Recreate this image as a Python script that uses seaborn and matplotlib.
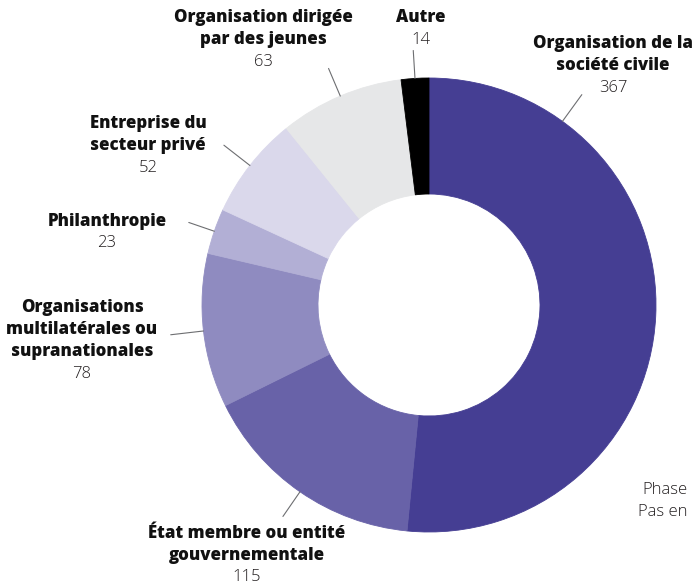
import numpy as np
import seaborn as sns
import matplotlib.pyplot as plt

categories = ["Organisation de la\nsociété civile",
              "État membre ou entité\ngouvernementale",
              "Organisations\nmultilatérales ou\nsupranationales",
              "Philanthropie",
              "Entreprise du\nsecteur privé",
              "Organisation dirigée\npar des jeunes",
              "Autre"]
values = [367, 115, 78, 23, 52, 63, 14]
colors = ["#453e93", "#6862a8", "#8f8bc0", "#b2afd5", "#dad8eb", "#e6e7e8", "#000000"]

sns.set_theme(style="white")
plt.rcParams['font.family'] = ['Open Sans', 'DejaVu Sans']

W, H = 696, 586
fig = plt.figure(figsize=(W / 100, H / 100), dpi=100)
ax = fig.add_axes([0, 0, 1, 1])
ax.set_aspect('equal')
ax.axis('off')

cx, cy = 429, H - 305
r_out, r_in = 227, 111

wedges, _ = ax.pie(values, colors=colors, startangle=90, counterclock=False,
                   center=(cx, cy), radius=r_out,
                   wedgeprops=dict(width=r_out - r_in, linewidth=0.6))
for w, c in zip(wedges, colors):
    w.set_edgecolor(c)
ax.set_xlim(0, W)
ax.set_ylim(0, H)

# label placement (pixel coords from top-left): leader angle override, text centre
lead_angle = {0: 36}
text_pos = [(613, 44), (247, 533), (82, 308), (107, 221), (148, 124), (263, 18), (421, 18)]
line_len = [33, 30, 33, 27, 33, 30, 28]

total = sum(values)
start = 0.0
for i, (lab, v) in enumerate(zip(categories, values)):
    mid = start + v / total * 360 / 2
    start += v / total * 360
    a = np.deg2rad(lead_angle.get(i, mid))
    x0, y0 = cx + r_out * np.sin(a), cy + r_out * np.cos(a)
    x1 = cx + (r_out + line_len[i]) * np.sin(a)
    y1 = cy + (r_out + line_len[i]) * np.cos(a)
    ax.plot([x0, x1], [y0, y1], color='#6d6e71', lw=0.8)
    tx, ty = text_pos[i]
    nl = lab.count('\n') + 1
    for j, line in enumerate(lab.split('\n')):
        ax.text(tx, H - ty - j * 22, line, ha='center', va='center',
                fontsize=12.2, fontweight='heavy', color='#111111')
    ax.text(tx, H - ty - nl * 22, str(v), ha='center', va='center',
            fontsize=12, fontweight='light', color='#231f20')

ax.text(642, H - 490, "Phase", ha='left', va='center', fontsize=12,
        fontweight='light', color='#231f20')
ax.text(638, H - 512, "Pas en", ha='left', va='center', fontsize=12,
        fontweight='light', color='#231f20')

fig.savefig("out.png", dpi=100)
